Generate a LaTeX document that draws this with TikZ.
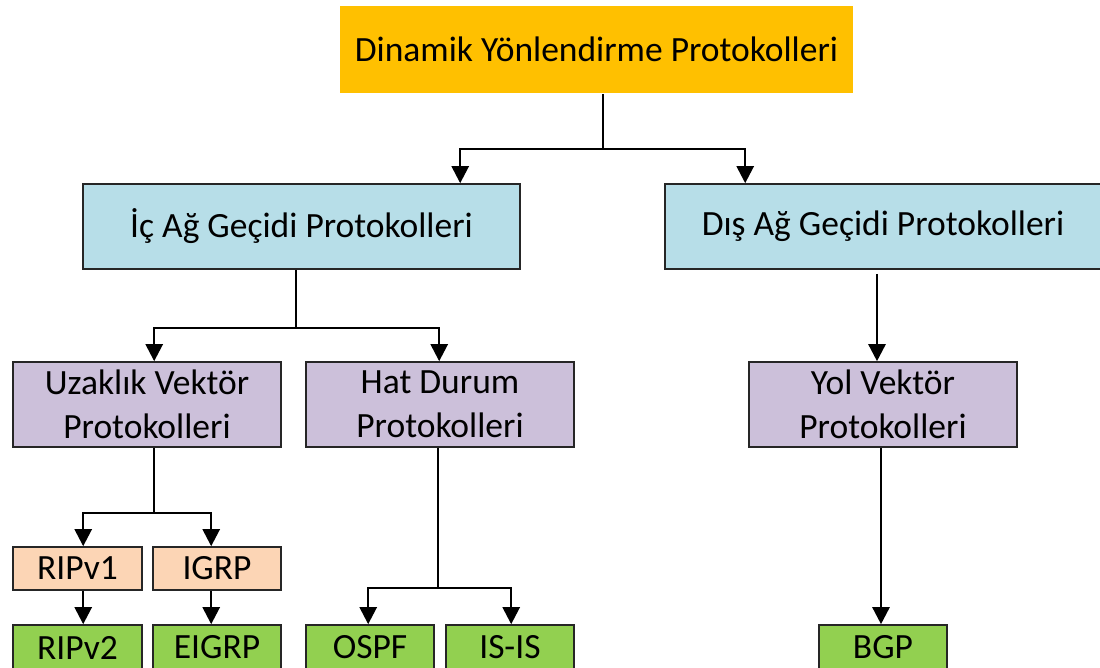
\documentclass[tikz,border=0pt]{standalone}
\usepackage{fontspec}
\setmainfont{Carlito}
\usetikzlibrary{arrows.meta,calc}
\definecolor{topfill}{HTML}{FFC000}
\definecolor{gwfill}{HTML}{B7DEE8}
\definecolor{famfill}{HTML}{CCC0DA}
\definecolor{oldfill}{HTML}{FCD5B5}
\definecolor{newfill}{HTML}{92D050}
\definecolor{edge}{HTML}{262626}
\tikzset{
  box/.style={draw=edge, line width=1.6pt, inner sep=0pt, align=center,
    font=\fontsize{35.5}{44}\selectfont},
  wire/.style={draw=black, line width=2.5pt},
  arr/.style={wire, -{Triangle[width=17pt,length=17pt]}}
}
\begin{document}
\begin{tikzpicture}[x=1pt,y=-1pt]
\useasboundingbox (0,0) rectangle (1100,667);
% tree of routing protocol families
\node[box, draw=none, fill=topfill, minimum width=513pt, minimum height=87pt] (top) at (596.5,49.5) {Dinamik Yönlendirme Protokolleri};
\node[box, fill=gwfill, minimum width=437pt, minimum height=85pt] (ic) at (301.5,226.5) {İç Ağ Geçidi Protokolleri};
\node[box, fill=gwfill, minimum width=436pt, minimum height=85pt] (dis) at (883,226.5) {Dış Ağ Geçidi Protokolleri};
\node[box, fill=famfill, minimum width=268pt, minimum height=85pt] (uz) at (147,404.5) {Uzaklık Vektör\\Protokolleri};
\node[box, fill=famfill, minimum width=268pt, minimum height=85pt] (hat) at (440,404.5) {Hat Durum\\Protokolleri};
\node[box, fill=famfill, minimum width=268pt, minimum height=85pt] (yol) at (883,404.5) {Yol Vektör\\Protokolleri};
\node[box, fill=oldfill, minimum width=129pt, minimum height=43pt] (rip1) at (77.5,568.5) {RIPv1};
\node[box, fill=oldfill, minimum width=128pt, minimum height=43pt] (igrp) at (217,568.5) {IGRP};
\node[box, fill=newfill, minimum width=129pt, minimum height=45pt] (rip2) at (77.5,647.5) {RIPv2};
\node[box, fill=newfill, minimum width=128pt, minimum height=45pt] (eigrp) at (217,647.5) {EIGRP};
\node[box, fill=newfill, minimum width=128pt, minimum height=45pt] (ospf) at (370,647.5) {OSPF};
\node[box, fill=newfill, minimum width=128pt, minimum height=45pt] (isis) at (510,647.5) {IS-IS};
\node[box, fill=newfill, minimum width=128pt, minimum height=45pt] (bgp) at (883,647.5) {BGP};
% connectors
\draw[wire] ($(top.south west)+(264,0)$) -- ++(0,55) coordinate (j1);
\draw[arr] (j1) -| ($(ic.north west)+(378,0)$);
\draw[arr] (j1) -| ($(dis.north west)+(81,0)$);
\draw[wire] ($(ic.south west)+(214,0)$) -- ++(0,58) coordinate (j2);
\draw[arr] (j2) -| ($(uz.north west)+(142,0)$);
\draw[arr] (j2) -| ($(hat.north west)+(134,0)$);
\draw[arr] ($(dis.south)+(-6,4)$) -- ($(yol.north)+(-6,0)$);
\draw[wire] ($(uz.south west)+(142,0)$) -- ++(0,65) coordinate (j3);
\draw[arr] (j3) -| ($(rip1.north west)+(71,0)$);
\draw[arr] (j3) -| ($(igrp.north west)+(59,0)$);
\draw[arr] ($(rip1.south west)+(71,0)$) -- ($(rip2.north west)+(71,0)$);
\draw[arr] ($(igrp.south west)+(59,0)$) -- ($(eigrp.north west)+(59,0)$);
\draw[wire] ($(hat.south west)+(133,0)$) -- ++(0,140) coordinate (j4);
\draw[arr] (j4) -| ($(ospf.north west)+(63,0)$);
\draw[arr] (j4) -| ($(isis.north west)+(66,0)$);
\draw[arr] ($(yol.south)+(-2,0)$) -- ($(bgp.north)+(-2,0)$);
\end{tikzpicture}
\end{document}
